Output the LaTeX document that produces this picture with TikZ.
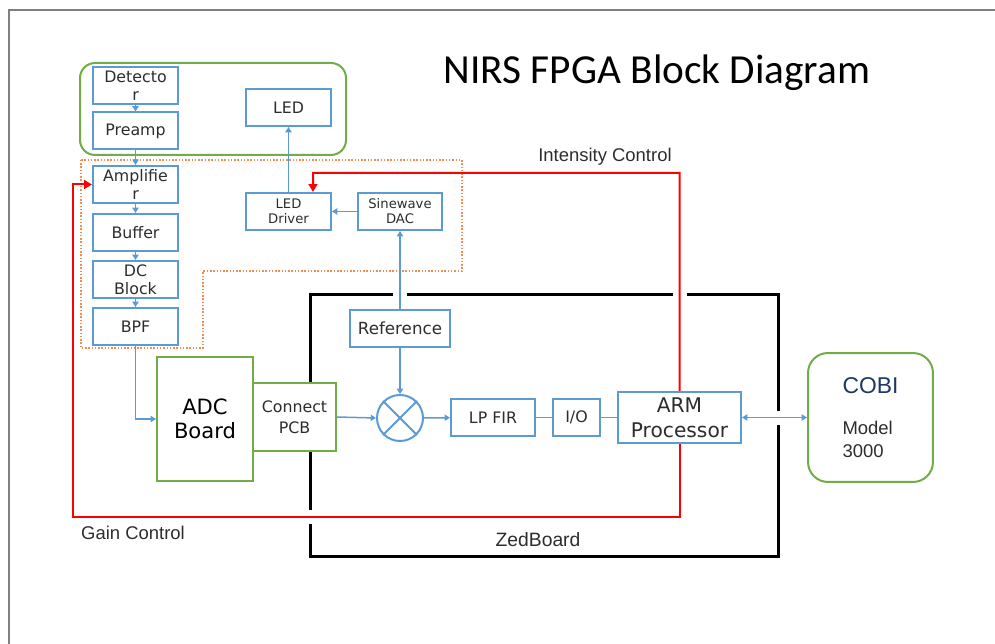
\documentclass[tikz,border=0pt]{standalone}
\usepackage{fontspec}
\setmainfont{DejaVu Sans}
\newfontfamily\titlefont{Carlito}
\newfontfamily\labelfont{Liberation Sans}
\usepackage{xcolor}
\usepackage{tikz}
\usetikzlibrary{arrows.meta,calc}
\definecolor{tcBlue}{RGB}{91,155,213}
\definecolor{tcGreen}{RGB}{112,173,71}
\definecolor{tcOrange}{RGB}{242,140,80}
\definecolor{tcRed}{RGB}{255,0,0}
\definecolor{tcText}{RGB}{45,45,45}
\definecolor{tcNavy}{RGB}{31,56,100}
\tikzstyle{tsBoxText} = [
    text=tcText,
    font=\fontsize{9}{10}\selectfont,
    align=center
]
\tikzstyle{tsBlueBox} = [
    rectangle,
    tsBoxText,
    draw=tcBlue,
    line width=0.04cm,
    fill=white,
    inner sep=0pt,
    minimum width=1.7cm,
    minimum height=0.74cm]
\tikzstyle{tsGreenBox} = [
    rectangle,
    tsBoxText,
    draw=tcGreen,
    line width=0.04cm,
    fill=white,
    inner sep=0pt]
\tikzstyle{tsBlueArrow} = [
    draw=tcBlue,
    line width=0.03cm,
    -{Triangle[length=3pt,width=3.5pt]}]
\tikzstyle{tsRedArrow} = [
    draw=tcRed,
    line width=0.04cm,
    -{Triangle[length=4.5pt,width=5pt]}]
\tikzstyle{tsLabel} = [
    text=tcText,
    font=\labelfont\fontsize{10.5}{12}\selectfont]

\begin{document}
\begin{tikzpicture}[x=0.02cm, y=-0.02cm]

        \useasboundingbox (0,0) rectangle (995,644);
        \draw[gray, line width=0.05cm] (995,10) -- (9,10) -- (9,644);

        % groups and board outline
        \draw[tcGreen, line width=0.04cm, rounded corners=0.3cm] (80,63) rectangle (346,155);
        \draw[tcOrange, line width=0.03cm, densely dotted]
            (81,160) -- (462,160) -- (462,271) -- (203,271) -- (203,348) -- (81,348) -- cycle;
        \draw[black, line width=0.06cm] (310,510) -- (310,295) -- (393,295);
        \draw[black, line width=0.06cm] (407,295) -- (673,295);
        \draw[black, line width=0.06cm] (687,295) -- (778,295) -- (778,411);
        \draw[black, line width=0.06cm] (778,425) -- (778,557) -- (310,557) -- (310,524);

        % sensor chain
        \node[tsBlueBox] (det) at (135.5,86) {Detecto\\r};
        \node[tsBlueBox] (pre) at (135.5,131) {Preamp};
        \node[tsBlueBox] (amp) at (135.5,184.5) {Amplifie\\r};
        \node[tsBlueBox] (buf) at (135.5,232.5) {Buffer};
        \node[tsBlueBox] (dcb) at (135.5,279.5) {DC\\Block};
        \node[tsBlueBox] (bpf) at (135.5,326.5) {BPF};

        % source chain
        \node[tsBlueBox] (led) at (288.5,107.5) {LED};
        \node[tsBlueBox, font=\fontsize{7.5}{8.5}\selectfont] (drv) at (288.5,211.5) {LED\\Driver};
        \node[tsBlueBox, font=\fontsize{7.5}{8.5}\selectfont,
              minimum width=1.68cm] (dac) at (400,211.5) {Sinewave\\DAC};
        \node[tsBlueBox, font=\fontsize{9.5}{11}\selectfont,
              minimum width=2.02cm] (ref) at (400,328.5) {Reference};

        % processing chain
        \node[tsGreenBox, font=\fontsize{12}{13.6}\selectfont, text=black,
              minimum width=1.92cm, minimum height=2.48cm] (adc) at (205,419) {ADC\\Board};
        \node[tsGreenBox, minimum width=1.66cm,
              minimum height=1.36cm, font=\fontsize{9}{12}\selectfont] (pcb) at (294.5,417) {Connect\\PCB};
        \node[circle, draw=tcBlue, line width=0.04cm, fill=white,
              minimum size=0.92cm] (mix) at (400,418) {};
        \draw[tcBlue, line width=0.04cm] (mix.north east) -- (mix.south west);
        \draw[tcBlue, line width=0.04cm] (mix.north west) -- (mix.south east);
        \node[tsBlueBox, minimum width=1.68cm] (fir) at (493,417.5) {LP FIR};
        \node[tsBlueBox, minimum width=0.94cm] (io) at (576.5,417.5) {I/O};
        \node[tsBlueBox, font=\fontsize{11.5}{14}\selectfont,
              minimum width=2.46cm, minimum height=1.02cm] (arm) at (679.5,417.5) {ARM\\Processor};
        \node[tsGreenBox, rounded corners=0.4cm, minimum width=2.5cm, align=left,
              minimum height=2.58cm, font=\labelfont\fontsize{10.5}{13}\selectfont]
              (cobi) at (870.5,417.5) {{\color{tcNavy}\fontsize{13}{15}\selectfont COBI}\\[10pt]Model\\3000};

        % signal connectors
        \draw[tsBlueArrow] (det) -- (pre);
        \draw[tsBlueArrow] (pre) -- (amp);
        \draw[tsBlueArrow] (amp) -- (buf);
        \draw[tsBlueArrow] (buf) -- (dcb);
        \draw[tsBlueArrow] (dcb) -- (bpf);
        \draw[tsBlueArrow] (bpf.south) |- (adc.west);
        \draw[tsBlueArrow] (drv) -- (led);
        \draw[tsBlueArrow] (dac) -- (drv);
        \draw[tsBlueArrow] (ref) -- (dac);
        \draw[tsBlueArrow] (ref) -- (mix);
        \draw[tsBlueArrow] (pcb.east) -- (mix.west);
        \draw[tsBlueArrow] (mix) -- (fir);
        \draw[tsBlueArrow, -] (fir) -- (io);
        \draw[tsBlueArrow, -] (io) -- (arm);
        \draw[tsBlueArrow, {Triangle[length=3pt,width=3.5pt]}-{Triangle[length=3pt,width=3.5pt]}] (arm) -- (cobi);

        % control loops
        \coordinate (icBend) at (313,173);
        \coordinate (gcBend) at (73,517);
        \draw[tsRedArrow] (arm.north) |- (icBend) -- ($(drv.north)+(24.5,0)$);
        \draw[tsRedArrow] (arm.south) |- (gcBend) |- (amp.west);

        % titles
        \node[font=\titlefont\fontsize{23.5}{28}\selectfont] (title) at (657,73) {NIRS FPGA Block Diagram};
        \node[tsLabel] (icText) at (605,157) {Intensity Control};
        \node[tsLabel] (gcText) at (133,533) {Gain Control};
        \node[tsLabel, font=\labelfont\fontsize{11}{12}\selectfont] (zedText) at (538,540) {ZedBoard};

\end{tikzpicture}
\end{document}
